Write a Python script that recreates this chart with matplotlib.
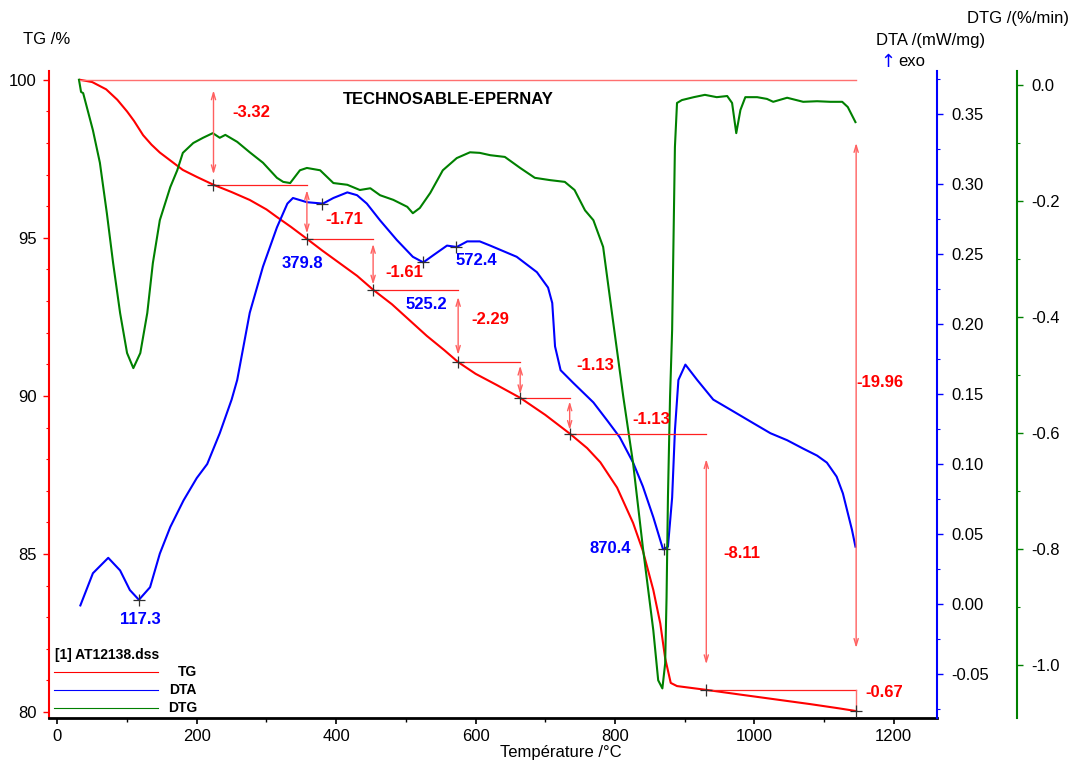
import numpy as np
import matplotlib
matplotlib.use("Agg")
import matplotlib.pyplot as plt
from matplotlib.ticker import MultipleLocator

plt.rcParams['font.family'] = ['Liberation Sans', 'DejaVu Sans']

# TG curve (%)
T_tg = [33, 50, 70, 86, 100, 110, 123, 135, 147, 165, 180, 200, 224, 250, 276, 300, 315, 335,
        358, 380, 405, 430, 453, 480, 505, 530, 555, 575, 600, 630, 664, 700, 735, 760, 779,
        803, 826, 840, 855, 865, 872, 880, 889, 910, 931, 980, 1030, 1080, 1120, 1146]
tg = [100.0, 99.93, 99.7, 99.37, 99.0, 98.7, 98.25, 97.95, 97.7, 97.4, 97.15, 96.93, 96.68,
      96.45, 96.2, 95.9, 95.66, 95.35, 94.97, 94.6, 94.2, 93.8, 93.36, 92.9, 92.4, 91.9, 91.45,
      91.07, 90.7, 90.35, 89.94, 89.4, 88.81, 88.35, 87.9, 87.1, 85.98, 85.1, 83.86, 82.8,
      81.7, 80.92, 80.82, 80.76, 80.70, 80.55, 80.4, 80.25, 80.12, 80.03]

# DTA curve (mW/mg)
T_dta = [33, 51, 73, 90, 104, 117, 133, 147, 162, 181, 200, 215, 233, 250, 258, 276, 295, 315,
         330, 338, 358, 381, 396, 416, 430, 444, 463, 487, 510, 525, 539, 559, 573, 588, 606,
         621, 659, 688, 704, 710, 714, 722, 740, 769, 789, 807, 826, 840, 855, 869, 876, 882,
         886, 891, 901, 918, 941, 965, 999, 1023, 1047, 1070, 1090, 1104, 1118, 1127, 1134,
         1140, 1145]
dta = [-0.001, 0.022, 0.033, 0.024, 0.01, 0.003, 0.012, 0.036, 0.055, 0.074, 0.09, 0.1, 0.122,
       0.146, 0.16, 0.208, 0.241, 0.269, 0.286, 0.29, 0.287, 0.286, 0.29, 0.294, 0.292, 0.286,
       0.274, 0.26, 0.248, 0.244, 0.249, 0.256, 0.255, 0.259, 0.259, 0.256, 0.248, 0.237,
       0.226, 0.215, 0.184, 0.167, 0.158, 0.144, 0.131, 0.119, 0.101, 0.084, 0.062, 0.039,
       0.041, 0.076, 0.124, 0.16, 0.171, 0.16, 0.146, 0.139, 0.129, 0.122, 0.117, 0.111,
       0.106, 0.101, 0.091, 0.079, 0.065, 0.053, 0.041]

# DTG curve (%/min)
T_dtg = [31, 34, 37, 51, 61, 71, 80, 90, 100, 109, 119, 129, 137, 147, 162, 172, 180, 195, 209,
         223, 233, 241, 258, 276, 295, 315, 324, 334, 348, 358, 377, 396, 416, 434, 449, 463,
         482, 502, 510, 520, 535, 553, 573, 592, 606, 621, 642, 664, 685, 707, 728, 742, 757,
         769, 783, 797, 812, 826, 840, 855, 862, 868, 872, 874, 876, 879, 882, 886, 889, 896,
         913, 929, 946, 961, 968, 974, 980, 987, 1004, 1018, 1027, 1047, 1070, 1090, 1109,
         1126, 1134, 1145]
dtg = [0.009, -0.012, -0.014, -0.078, -0.134, -0.221, -0.307, -0.393, -0.462, -0.488, -0.462,
       -0.393, -0.307, -0.233, -0.176, -0.147, -0.117, -0.1, -0.091, -0.083, -0.091, -0.086,
       -0.098, -0.116, -0.134, -0.16, -0.167, -0.169, -0.147, -0.143, -0.147, -0.169, -0.172,
       -0.181, -0.178, -0.19, -0.198, -0.21, -0.221, -0.212, -0.186, -0.147, -0.126, -0.116,
       -0.117, -0.121, -0.124, -0.143, -0.16, -0.164, -0.167, -0.181, -0.216, -0.233, -0.279,
       -0.405, -0.538, -0.652, -0.797, -0.94, -1.026, -1.04, -0.997, -0.883, -0.71, -0.538,
       -0.422, -0.107, -0.031, -0.026, -0.021, -0.017, -0.021, -0.019, -0.031, -0.083, -0.043,
       -0.021, -0.021, -0.024, -0.029, -0.022, -0.029, -0.028, -0.029, -0.029, -0.038, -0.064]

# mass loss steps
step_T = [224, 358, 453, 575, 664, 735, 931, 1146]
step_tg = [96.68, 94.97, 93.36, 91.07, 89.94, 88.81, 80.70, 80.03]
step_labels = ['-3.32', '-1.71', '-1.61', '-2.29', '-1.13', '-1.13', '-8.11', '-0.67']
total_label = '-19.96'
label_T = [251, 384, 471, 594, 745, 825, 955, 1159]
label_tg = [98.96, 95.57, 93.92, 92.41, 90.95, 89.24, 85.03, 80.63]

# DTA peaks
peak_T = [117.3, 379.8, 525.2, 572.4, 870.4]
peak_dta = [0.003, 0.286, 0.244, 0.255, 0.039]
peak_lab_T = [119, 351, 530, 601, 793]
peak_lab_dta = [-0.0114, 0.243, 0.214, 0.245, 0.04]

W, H = 1078, 767
fig = plt.figure(figsize=(W / 100, H / 100), dpi=100)
ax = fig.add_axes([49 / W, 1 - 718 / H, (937 - 49) / W, (718 - 71) / H])
ax2 = ax.twinx()
ax3 = ax.twinx()

ax.set_xlim(-12, 1262)
ax.set_ylim(79.81, 100.28)
ax2.set_ylim(-0.0814, 0.3807)
ax3.set_ylim(-1.091, 0.0241)

ax.plot(T_tg, tg, color='#ff0000', lw=1.5)
ax2.plot(T_dta, dta, color='#0000ff', lw=1.5)
ax3.plot(T_dtg, dtg, color='#008000', lw=1.5)

# spines
for a in (ax, ax2, ax3):
    a.patch.set_visible(False)
    for s in a.spines.values():
        s.set_visible(False)
ax.spines['left'].set_visible(True)
ax.spines['left'].set_color('#ff0000')
ax.spines['left'].set_linewidth(1.5)
ax.spines['bottom'].set_visible(True)
ax.spines['bottom'].set_linewidth(2)
ax2.spines['right'].set_visible(True)
ax2.spines['right'].set_color('#0000ff')
ax2.spines['right'].set_linewidth(1.5)
ax3.spines['right'].set_visible(True)
ax3.spines['right'].set_position(('outward', 80 * 0.72))
ax3.spines['right'].set_color('#008000')
ax3.spines['right'].set_linewidth(1.5)

# ticks
ax.xaxis.set_major_locator(MultipleLocator(200))
ax.xaxis.set_minor_locator(MultipleLocator(100))
ax.yaxis.set_major_locator(MultipleLocator(5))
ax.yaxis.set_minor_locator(MultipleLocator(1))
ax2.yaxis.set_major_locator(MultipleLocator(0.05))
ax2.yaxis.set_minor_locator(MultipleLocator(0.025))
ax3.yaxis.set_major_locator(MultipleLocator(0.2))
ax3.yaxis.set_minor_locator(MultipleLocator(0.1))
ax2.yaxis.set_major_formatter(matplotlib.ticker.FormatStrFormatter('%.2f'))
ax3.yaxis.set_major_formatter(matplotlib.ticker.FormatStrFormatter('%.1f'))

ax.tick_params(axis='x', which='major', length=4, width=1.2, labelsize=12, pad=4)
ax.tick_params(axis='x', which='minor', length=3, width=1)
ax.tick_params(axis='y', which='both', color='#ff0000', labelsize=12, pad=5)
ax.tick_params(axis='y', which='major', length=4, width=1)
ax.tick_params(axis='y', which='minor', length=2.5, width=0.8)
ax2.tick_params(axis='y', which='both', color='#0000ff', labelsize=12, pad=6)
ax2.tick_params(axis='y', which='major', length=4, width=1)
ax2.tick_params(axis='y', which='minor', length=2.5, width=0.8)
ax3.tick_params(axis='y', which='both', color='#008000', labelsize=12, pad=6)
ax3.tick_params(axis='y', which='major', length=4, width=1)
ax3.tick_params(axis='y', which='minor', length=2.5, width=0.8)

# TG step annotations, drawn on top axes with TG coordinates
tr = ax.transData
ax3.plot([T_tg[0], step_T[-1]], [100, 100], color='#ff7070', lw=1, transform=tr)
levels = [100] + step_tg
for i in range(len(step_T)):
    hi, lo = levels[i], levels[i + 1]
    if i < len(step_T) - 1:
        gap = 0.1 * (hi - lo)
        ax3.annotate('', xy=(step_T[i], lo + gap), xytext=(step_T[i], hi - gap),
                     xycoords=tr, textcoords=tr,
                     arrowprops=dict(arrowstyle='<->,head_length=0.5,head_width=0.15',
                                     color='#ff6060', lw=1, shrinkA=0, shrinkB=0))
        ax3.plot([step_T[i], step_T[i + 1]], [lo, lo], color='#ff2020', lw=0.9, transform=tr)
    else:
        ax3.plot([step_T[i], step_T[i]], [hi, lo], color='#ff7070', lw=1, transform=tr)
    ax3.text(label_T[i], label_tg[i], step_labels[i], color='#ff0000', fontsize=12,
             fontweight='bold', ha='left', va='center', transform=tr)
# total loss arrow
d = 100 - step_tg[-1]
ax3.annotate('', xy=(step_T[-1], step_tg[-1] + 0.1 * d), xytext=(step_T[-1], 100 - 0.1 * d),
             xycoords=tr, textcoords=tr,
             arrowprops=dict(arrowstyle='<->,head_length=0.5,head_width=0.15',
                             color='#ff6060', lw=1, shrinkA=0, shrinkB=0))
ax3.text(1147, 90.41, total_label, color='#ff0000', fontsize=12, fontweight='bold',
         ha='left', va='center', transform=tr)
ax3.plot(step_T, step_tg, '+', color='#303030', ms=9, mew=0.9, transform=tr)

# DTA peaks
tr2 = ax2.transData
ax3.plot(peak_T, peak_dta, '+', color='#303030', ms=9, mew=0.9, transform=tr2)
for t, v, lt, lv in zip(peak_T, peak_dta, peak_lab_T, peak_lab_dta):
    ax3.text(lt, lv, f'{t:.1f}', color='#0000ff', fontsize=12, fontweight='bold',
             ha='center', va='center', transform=tr2)

# title and axis labels
fig.text(448 / W, 1 - 100 / H, 'TECHNOSABLE-EPERNAY', fontsize=12, fontweight='bold',
         ha='center', va='center')
fig.text(23 / W, 1 - 40 / H, 'TG /%', fontsize=12, ha='left', va='center')
fig.text(876 / W, 1 - 40 / H, 'DTA /(mW/mg)', fontsize=12, ha='left', va='center')
fig.text(880 / W, 1 - 62 / H, '\u2191', fontsize=13, color='#0000ff', ha='left', va='center',
         family='DejaVu Sans')
fig.text(898 / W, 1 - 62 / H, 'exo', fontsize=12, ha='left', va='center')
fig.text(1069 / W, 1 - 19 / H, 'DTG /(%/min)', fontsize=12, ha='right', va='center')
fig.text(561 / W, 1 - 752 / H, 'Température /°C', fontsize=12, ha='center', va='center')

# legend
fig.text(55 / W, 1 - 655 / H, '[1] AT12138.dss', fontsize=10, fontweight='bold',
         ha='left', va='center')
leg_names = ['TG', 'DTA', 'DTG']
leg_colors = ['#ff0000', '#0000ff', '#008000']
for k, (n, c) in enumerate(zip(leg_names, leg_colors)):
    yy = 1 - (672 + 18 * k) / H
    fig.add_artist(plt.Line2D([54 / W, 158 / W], [yy, yy], color=c, lw=0.8,
                              transform=fig.transFigure))
    fig.text(197 / W, yy, n, fontsize=10, fontweight='bold', ha='right', va='center')

fig.savefig('out.png', dpi=100)
